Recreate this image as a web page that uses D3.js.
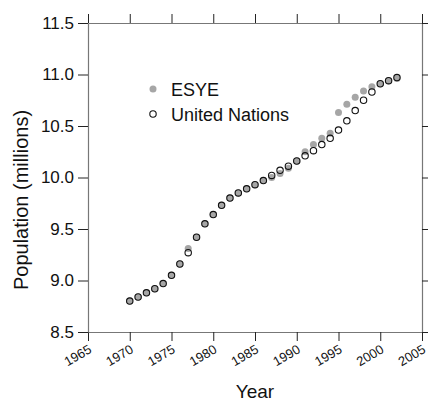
<!DOCTYPE html>
<html lang="en">
<head>
    <meta charset="UTF-8">
    <title>Population of Greece</title>
    <script src="https://d3js.org/d3.v7.min.js"></script>
    <style>
        body {
            margin: 0;
            background: #fff;
            font-family: Arial, "Liberation Sans", sans-serif;
        }
        svg { display: block; }
        .axis .domain { stroke: #777; stroke-width: 1.2px; }
        .axis line { stroke: #222; stroke-width: 1px; }
        .axis text { fill: #111; font-family: Arial, "Liberation Sans", sans-serif; }
        .ylab text { font-size: 17px; }
        .xlab text { font-size: 13px; }
        .title { fill: #111; font-size: 19px; }
        .legend text { fill: #111; font-size: 18px; }
    </style>
</head>
<body>
    <svg id="chart" width="428" height="403"></svg>

    <script>
        // Data
        const years = d3.range(1970, 2003);
        const esye = [8.80, 8.84, 8.88, 8.92, 8.97, 9.05, 9.16, 9.31, 9.42, 9.55,
                      9.64, 9.73, 9.80, 9.85, 9.89, 9.93, 9.97, 10.00, 10.04, 10.09,
                      10.16, 10.25, 10.32, 10.38, 10.43, 10.63, 10.71, 10.78, 10.84, 10.88,
                      10.91, 10.94, 10.96];
        const un = [8.80, 8.84, 8.88, 8.92, 8.97, 9.05, 9.16, 9.27, 9.42, 9.55,
                    9.64, 9.73, 9.80, 9.85, 9.89, 9.93, 9.97, 10.02, 10.07, 10.11,
                    10.16, 10.21, 10.26, 10.32, 10.38, 10.46, 10.55, 10.65, 10.75, 10.83,
                    10.91, 10.94, 10.97];
        const xTicks = [1965, 1970, 1975, 1980, 1985, 1990, 1995, 2000, 2005];
        const yTicks = [8.5, 9.0, 9.5, 10.0, 10.5, 11.0, 11.5];

        const svg = d3.select("#chart");
        const margin = { top: 23, right: 6, bottom: 71, left: 88 };
        const width = +svg.attr("width") - margin.left - margin.right;
        const height = +svg.attr("height") - margin.top - margin.bottom;

        const x = d3.scaleLinear().domain([1965, 2005]).range([0, width]);
        const y = d3.scaleLinear().domain([8.5, 11.5]).range([height, 0]);

        const g = svg.append("g")
            .attr("transform", `translate(${margin.left},${margin.top})`);

        // Axes, ticks outward on all four sides
        g.append("g")
            .attr("class", "axis xlab")
            .attr("transform", `translate(0,${height})`)
            .call(d3.axisBottom(x).tickValues(xTicks).tickFormat(d3.format("d")).tickSize(9).tickSizeOuter(0))
            .selectAll("text")
            .attr("text-anchor", "end")
            .attr("x", 0)
            .attr("y", 0)
            .attr("dy", 0)
            .attr("transform", "translate(4,20) rotate(-30)");

        g.append("g")
            .attr("class", "axis")
            .call(d3.axisTop(x).tickValues(xTicks).tickFormat("").tickSize(9).tickSizeOuter(0));

        g.append("g")
            .attr("class", "axis ylab")
            .call(d3.axisLeft(y).tickValues(yTicks).tickFormat(d3.format(".1f")).tickSize(10).tickPadding(4).tickSizeOuter(0));

        g.append("g")
            .attr("class", "axis")
            .attr("transform", `translate(${width},0)`)
            .call(d3.axisRight(y).tickValues(yTicks).tickFormat("").tickSize(9).tickSizeOuter(0));

        // Axis titles
        svg.append("text")
            .attr("class", "title")
            .attr("text-anchor", "middle")
            .attr("x", margin.left + width / 2)
            .attr("y", 398)
            .text("Year");

        svg.append("text")
            .attr("class", "title")
            .attr("text-anchor", "middle")
            .attr("font-size", 20)
            .style("font-size", "20px")
            .attr("transform", "translate(28,200) rotate(-90)")
            .text("Population (millions)");

        // ESYE: grey discs
        g.selectAll(".esye")
            .data(years)
            .enter().append("circle")
            .attr("class", "esye")
            .attr("cx", (d, i) => x(d))
            .attr("cy", (d, i) => y(esye[i]))
            .attr("r", 3.5)
            .attr("fill", "#a6a6a6");

        // United Nations: open circles
        g.selectAll(".un")
            .data(years)
            .enter().append("circle")
            .attr("class", "un")
            .attr("cx", (d, i) => x(d))
            .attr("cy", (d, i) => y(un[i]))
            .attr("r", 3.2)
            .attr("fill", "none")
            .attr("stroke", "#111")
            .attr("stroke-width", 1.1);

        // Legend
        const legend = svg.append("g").attr("class", "legend");

        legend.append("circle")
            .attr("cx", 153).attr("cy", 89).attr("r", 3.5)
            .attr("fill", "#a6a6a6");
        legend.append("text")
            .attr("x", 171).attr("y", 96)
            .text("ESYE");

        legend.append("circle")
            .attr("cx", 153).attr("cy", 114).attr("r", 3.2)
            .attr("fill", "none").attr("stroke", "#111").attr("stroke-width", 1.1);
        legend.append("text")
            .attr("x", 171).attr("y", 121)
            .text("United Nations");
    </script>
</body>
</html>
